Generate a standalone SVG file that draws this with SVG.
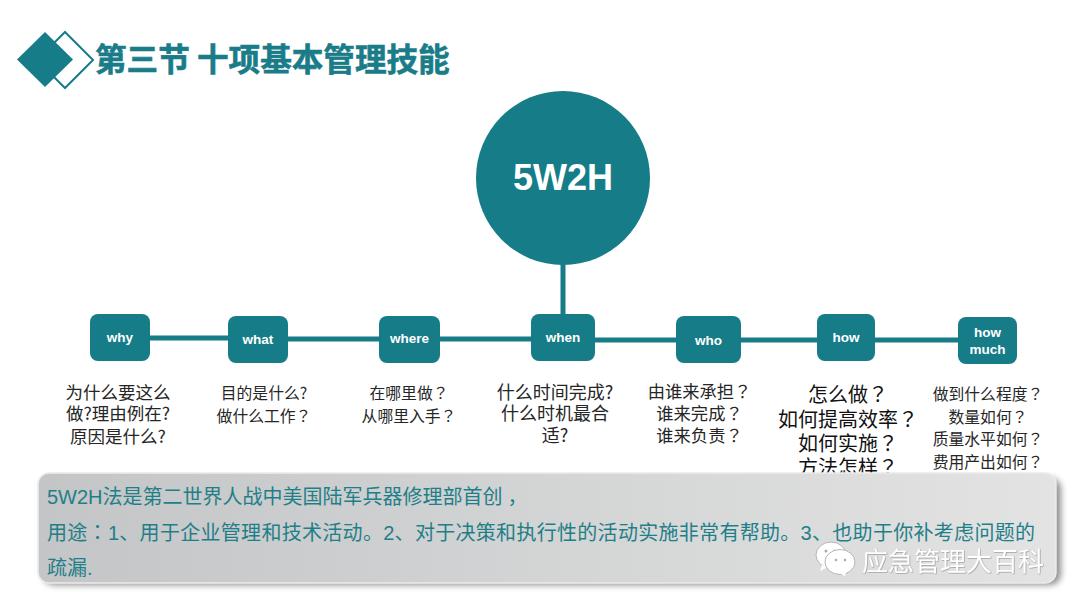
<svg xmlns="http://www.w3.org/2000/svg" width="1080" height="608" viewBox="0 0 1080 608">
<style>
text{font-family:"Liberation Sans","Noto Sans CJK SC",sans-serif}
.n{fill:#157c88}
.l{fill:#fff;font-size:13.5px;font-weight:700;text-anchor:middle}
.c{stroke:#157c88;stroke-width:5;fill:none}
.q{fill:#262626;text-anchor:middle}
.p{fill:#1f7f89;font-size:20px}
.f{font-family:"Noto Sans CJK SC","Liberation Sans",sans-serif}
.t{font-family:"Noto Sans CJK TC","Liberation Sans",sans-serif}
</style>
<defs>
<linearGradient id="pg" x1="0" x2="1" y1="0" y2="0"><stop offset="0" stop-color="#c3c5c6"/><stop offset="1" stop-color="#e3e3e3"/></linearGradient>
<filter id="b" x="-5%" y="-20%" width="110%" height="140%"><feGaussianBlur stdDeviation="3"/></filter>
<filter id="ws" x="-10%" y="-20%" width="120%" height="140%"><feDropShadow dx="0.5" dy="0.5" stdDeviation="0.7" flood-color="#777" flood-opacity="0.9"/></filter>
</defs>
<rect width="1080" height="608" fill="#fff"/>

<g id="title">
<path d="M65 32 L93 60 L65 88 L37 60 Z" fill="#fff" stroke="#157c88" stroke-width="2"/>
<path d="M45 32 L73 59.5 L45 87 L17 59.5 Z" class="n"/>
<text x="95" y="71" font-size="31.600" font-weight="700" fill="#1a7c88" stroke="#1a7c88" stroke-width="0.6" class="f">第三节 十项基本管理技能</text>
</g>

<g id="connectors">
<path class="c" d="M563 262V316"/>
<path class="c" d="M150 338H228"/>
<path class="c" d="M288 339H379"/>
<path class="c" d="M440 339H531"/>
<path class="c" d="M595 340H676"/>
<path class="c" d="M741 340H817"/>
<path class="c" d="M875 340H958"/>
</g>

<g id="hub"><circle cx="563" cy="178" r="87" class="n"/><text x="563" y="190" fill="#fff" font-size="36" font-weight="700" text-anchor="middle">5W2H</text></g>

<g id="why"><rect x="90" y="314" width="60" height="47" rx="8" class="n"/><text x="120" y="342" class="l">why</text>
<text class="q f" font-size="17.5"><tspan x="118" y="399">为什么要这么</tspan><tspan x="118" y="420">做?理由例在?</tspan><tspan x="118" y="443">原因是什么?</tspan></text></g>

<g id="what"><rect x="228" y="316" width="60" height="47" rx="8" class="n"/><text x="258" y="344" class="l">what</text>
<text class="q f" font-size="15.8"><tspan x="264" y="399">目的是什么?</tspan><tspan x="264" y="422">做什么工作<tspan class="t">？</tspan></tspan></text></g>

<g id="where"><rect x="379" y="316" width="61" height="47" rx="8" class="n"/><text x="409.500" y="343" class="l">where</text>
<text class="q f" font-size="15.8"><tspan x="409" y="399">在哪里做<tspan class="t">？</tspan></tspan><tspan x="409" y="422">从哪里入手<tspan class="t">？</tspan></tspan></text></g>

<g id="when"><rect x="531" y="314" width="64" height="47" rx="8" class="n"/><text x="563" y="342" class="l">when</text>
<text class="q f" font-size="18"><tspan x="555" y="399">什么时间完成?</tspan><tspan x="555" y="420">什么时机最合</tspan><tspan x="555" y="442">适?</tspan></text></g>

<g id="who"><rect x="676" y="316" width="65" height="47" rx="8" class="n"/><text x="708.500" y="345" class="l">who</text>
<text class="q f" font-size="17.3"><tspan x="699.500" y="398">由谁来承担<tspan class="t">？</tspan></tspan><tspan x="699.500" y="420">谁来完成<tspan class="t">？</tspan></tspan><tspan x="699.500" y="442">谁来负责<tspan class="t">？</tspan></tspan></text></g>

<g id="how"><rect x="817" y="314" width="58" height="47" rx="8" class="n"/><text x="846" y="342" class="l">how</text>
<text class="q f" font-size="20" style="fill:#111"><tspan x="848" y="402">怎么做<tspan class="t">？</tspan></tspan><tspan x="848" y="427">如何提高效率<tspan class="t">？</tspan></tspan><tspan x="848" y="451">如何实施<tspan class="t">？</tspan></tspan><tspan x="848" y="475">方法怎样<tspan class="t">？</tspan></tspan></text></g>

<g id="how-much"><rect x="958" y="317" width="59" height="47" rx="8" class="n"/><text x="987.500" y="337" class="l">how</text><text x="987.500" y="354" class="l">much</text>
<text class="q f" font-size="15.8"><tspan x="988" y="400">做到什么程度<tspan class="t">？</tspan></tspan><tspan x="988" y="423">数量如何<tspan class="t">？</tspan></tspan><tspan x="988" y="445">质量水平如何<tspan class="t">？</tspan></tspan><tspan x="988" y="468">费用产出如何<tspan class="t">？</tspan></tspan></text></g>

<g id="panel">
<rect x="43" y="478" width="1018" height="107" rx="11" fill="#6b6b6b" opacity="0.75" filter="url(#b)"/>
<rect x="38" y="473" width="1018" height="110" rx="11" fill="url(#pg)" stroke="#ececec" stroke-width="1.500"/>
<text class="p" x="47" y="504">5W2H法是第二世界人战中美国陆军兵器修理部首创<tspan dx="5">，</tspan></text>
<text class="p" x="47" y="540" textLength="988">用途<tspan class="t">：</tspan>1、用于企业管理和技术活动。2、对于决策和执行性的活动实施非常有帮助。3、也助于你补考虑问题的</text>
<text class="p" x="47" y="575">疏漏.</text>
</g>

<g id="watermark">
<ellipse cx="831" cy="555" rx="15" ry="13" fill="#fff" stroke="#b5b5b5"/>
<path d="M822 565 L820 571 L828 567 Z" fill="#fff"/>
<circle cx="826" cy="551" r="1.500" fill="#aaa"/><circle cx="834.500" cy="551" r="1.500" fill="#aaa"/>
<ellipse cx="840" cy="562" rx="15" ry="12.500" fill="#fff" stroke="#b5b5b5"/>
<path d="M846 572 L845 576 L839 573 Z" fill="#fff"/>
<circle cx="836" cy="560" r="1.300" fill="#aaa"/><circle cx="845" cy="560" r="1.300" fill="#aaa"/>
<text class="f" x="862" y="571" font-size="26" fill="#fff" filter="url(#ws)">应急管理大百科</text>
</g>
</svg>
